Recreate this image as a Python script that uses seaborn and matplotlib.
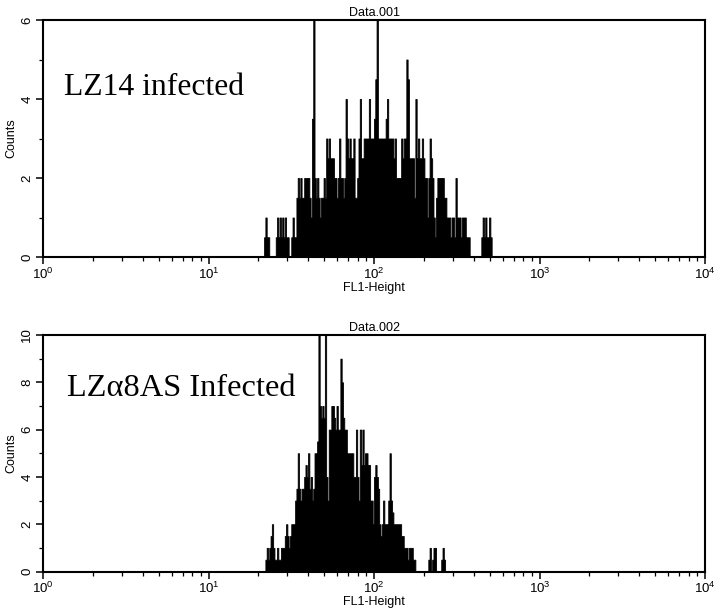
import numpy as np
import pandas as pd
import seaborn as sns
import matplotlib
matplotlib.use("Agg")
import matplotlib.pyplot as plt
from matplotlib.ticker import FixedLocator, MultipleLocator, LogLocator, NullFormatter

# ---------------- data ----------------
CHANNELS_PER_DECADE = 128          # histogram channel width = 1/128 decade
top_first_channel = 171
top_counts = [
    0.5, 1, 0.5, 0.5, 0, 0, 0, 0, 0,                      # 171-179
    0.5, 1, 0.5, 1, 0.5, 1, 0.5, 1, 0.5, 0.5,             # 180-189
    0, 0, 0.5, 1, 0.5, 0.5, 1.5, 2, 1.5, 2,               # 190-199
    1.5, 1.5, 2, 2, 2, 2, 1.5, 1, 3.5, 7,                 # 200-209
    2, 1.5, 2, 1.5, 1, 1.5, 1.5, 2, 1.5, 3,               # 210-219
    2.5, 3, 2.5, 2.5, 2.5, 2, 2, 1.5, 2, 3,               # 220-229
    2, 2, 1.5, 2, 4, 3, 2.5, 3, 2.5, 2.5,                 # 230-239
    3, 1.5, 1.5, 2, 3, 4, 2.5, 2.5, 3, 3,                 # 240-249
    3, 3, 4, 3, 3, 3, 3.5, 4.5, 7, 3,                     # 250-259
    3, 3, 3, 3, 3, 3.5, 4, 3, 3, 3,                       # 260-269
    3, 2.5, 3, 2, 2, 2, 2, 3, 2.5, 3,                     # 270-279
    3, 5, 4.5, 2.5, 2.5, 2.5, 2.5, 1.5, 4, 2.5,           # 280-289
    3, 2.5, 2.5, 3, 2.5, 2, 2, 1, 2, 3,                   # 290-299
    2.5, 2, 1, 0.5, 1.5, 2, 2, 2, 2, 2,                   # 300-309
    1.5, 1.5, 1, 1, 1, 0.5, 1, 1, 0.5, 2,                 # 310-319
    1, 1, 1, 0.5, 1, 1, 1, 0.5, 0.5, 0.5,                 # 320-329
    0, 0, 0, 0, 0, 0, 0, 0, 0,                            # 330-338
    0.5, 1, 0.5, 1, 0.5, 0.5, 1, 0.5,                     # 339-346
]
bottom_first_channel = 171
bottom_counts = [
    0, 0.5, 1, 0.5, 1, 1.5, 2, 1, 0.5,                    # 171-179
    0.5, 1, 0.5, 0.5, 1, 1, 1, 1.5, 2, 1.5,               # 180-189
    1, 1.5, 2, 2, 2, 3, 3.5, 5, 3.5, 3,                   # 190-199
    3.5, 3.5, 4, 4.5, 4, 5, 3.5, 4, 3, 3.5,               # 200-209
    5, 5, 5.5, 11, 7, 6.5, 7, 6.5, 11, 4,                 # 210-219
    3, 6, 6, 7, 7, 6.5, 6, 7, 6, 6,                       # 220-229
    9, 8, 6.5, 6, 6, 5, 5, 5, 5, 5,                       # 230-239
    4, 4, 6, 4, 3, 6, 4.5, 6, 4.5, 5,                     # 240-249
    5, 4.5, 4.5, 3, 3, 2, 4, 4.5, 4, 3.5,                 # 250-259
    2, 1.5, 2, 3, 2, 2, 2, 3, 5, 3,                       # 260-269
    2.5, 2, 2, 2, 2, 2, 2, 1.5, 1.5, 1,                   # 270-279
    1, 1, 0.5, 1, 1, 1, 0.5, 0.5, 0, 0,                   # 280-289
    0, 0, 0, 0, 0, 0, 0, 0, 0.5, 1,                       # 290-299
    0, 0.5, 1, 1, 0, 0, 0, 0, 0.5, 1, 0.5, 0,             # 300-311
]
panel_titles = ["Data.001", "Data.002"]
panel_labels = ["LZ14 infected", "LZ\u03b18AS Infected"]
y_limits = [6, 10]
y_major = [[0, 2, 4, 6], [0, 2, 4, 6, 8, 10]]
x_ticks = [1, 10, 100, 1000, 10000]
x_tick_labels = [r"$\mathregular{10^{0}}$", r"$\mathregular{10^{1}}$",
                 r"$\mathregular{10^{2}}$", r"$\mathregular{10^{3}}$",
                 r"$\mathregular{10^{4}}$"]
x_label = "FL1-Height"
y_label = "Counts"


def to_frame(first, counts):
    ch = np.arange(first, first + len(counts))
    return pd.DataFrame({"fl1": 10 ** ((ch + 0.5) / CHANNELS_PER_DECADE),
                         "count": counts})


frames = [to_frame(top_first_channel, top_counts),
          to_frame(bottom_first_channel, bottom_counts)]

# ---------------- figure ----------------
sns.set_style("ticks")
plt.rcParams["font.family"] = ["Liberation Sans", "DejaVu Sans"]
for key in ("text.color", "axes.labelcolor", "xtick.color", "ytick.color",
            "axes.edgecolor"):
    plt.rcParams[key] = "black"

fig = plt.figure(figsize=(7.2, 6.14), dpi=100)
W, H = 720, 614
boxes = [(43, 20, 705, 257), (43, 335, 705, 571.5)]   # left, top, right, bottom (px)
text_pos = [(0.032, 0.684), (0.036, 0.742)]
text_size = [22.8, 23.3]

for i in range(2):
    l, t, r, b = boxes[i]
    ax = fig.add_axes([l / W, 1 - b / H, (r - l) / W, (b - t) / H])
    sns.histplot(data=frames[i], x="fl1", weights="count",
                 binwidth=1 / CHANNELS_PER_DECADE, binrange=(0, 4),
                 log_scale=True, element="step", fill=True,
                 color="black", alpha=1, linewidth=0.6, ax=ax)
    ax.set_xlim(1, 1e4)
    ax.set_ylim(0, y_limits[i])
    ax.xaxis.set_major_locator(FixedLocator(x_ticks))
    ax.set_xticklabels(x_tick_labels)
    ax.xaxis.set_minor_locator(LogLocator(base=10, subs=np.arange(2, 10)))
    ax.xaxis.set_minor_formatter(NullFormatter())
    ax.yaxis.set_major_locator(FixedLocator(y_major[i]))
    ax.yaxis.set_minor_locator(MultipleLocator(1))
    ax.tick_params(axis="both", which="major", direction="out", length=5,
                   width=1.1, labelsize=9.5, color="black", labelcolor="black",
                   pad=2)
    ax.tick_params(axis="both", which="minor", direction="out", length=3,
                   width=0.9, color="black")
    ax.tick_params(axis="y", labelrotation=90)
    for lab in ax.get_yticklabels():
        lab.set_va("center")
    for sp in ax.spines.values():
        sp.set_visible(True)
        sp.set_linewidth(1.5)
        sp.set_color("black")
    ax.set_xlabel(x_label, fontsize=9, labelpad=0, color="black")
    ax.set_ylabel(y_label, fontsize=9, labelpad=3, color="black")
    ax.set_title(panel_titles[i], fontsize=9, pad=3, color="black")
    ax.text(text_pos[i][0], text_pos[i][1], panel_labels[i],
            transform=ax.transAxes, fontsize=text_size[i], color="black",
            family=["Liberation Serif", "DejaVu Serif"],
            ha="left", va="baseline")

fig.savefig("out.png", dpi=100)
